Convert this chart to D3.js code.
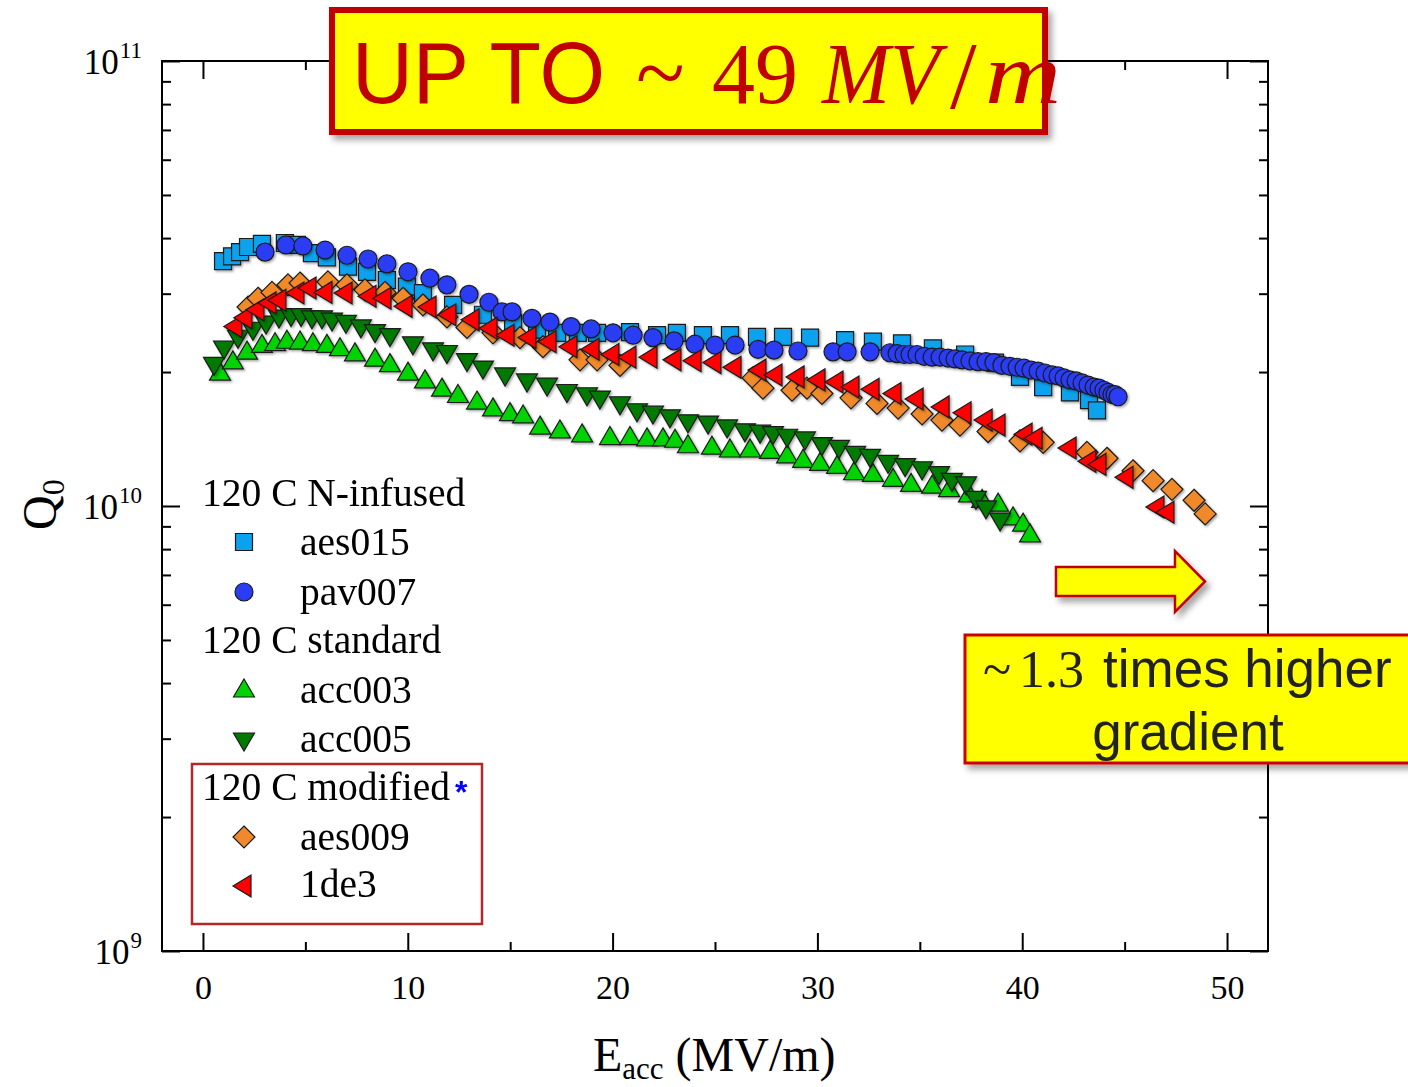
<!DOCTYPE html>
<html><head><meta charset="utf-8">
<script src="https://cdn.jsdelivr.net/npm/d3@7"></script>
<style>body{margin:0;background:#fff}svg{display:block}</style>
</head><body>
<svg id="c" width="1408" height="1087"></svg>
<script>
// Q0 values are in units of 1e10
const E_aes015 = [0.98,1.42,1.81,2.20,2.88,4.00,4.59,5.32,6.05,7.08,8.01,8.98,9.96,10.74,12.21,13.67,15.14,16.31,17.29,18.3,19.24,20.85,22.17,23.14,24.41,25.73,27.05,28.32,29.64,31.35,32.71,34.13,35.64,37.21,38.67,39.89,41.02,42.33,43.26,43.65];
const Q_aes015 = [3.55,3.64,3.72,3.82,3.88,3.90,3.86,3.70,3.62,3.45,3.36,3.22,3.11,3.01,2.83,2.69,2.58,2.49,2.45,2.45,2.45,2.46,2.42,2.45,2.42,2.42,2.40,2.40,2.39,2.36,2.34,2.32,2.26,2.19,2.10,1.95,1.85,1.80,1.73,1.64];

const E_pav007 = [3.03,4.05,4.88,5.96,7.03,8.06,8.98,10.01,11.08,11.91,12.99,13.96,14.60,15.09,16.06,16.94,17.97,18.95,20.02,21.00,21.97,23.00,24.02,25.00,25.98,27.10,27.88,29.05,30.76,31.45,32.57,33.54,33.89,34.23,34.52,34.86,35.21,35.60,35.99,36.38,36.72,37.06,37.45,37.84,38.23,38.62,39.01,39.40,39.75,40.09,40.43,40.77,41.11,41.46,41.75,42.04,42.33,42.63,42.92,43.21,43.51,43.75,43.99,44.19,44.38,44.53,44.68];
const Q_pav007 = [3.72,3.86,3.84,3.76,3.66,3.59,3.50,3.36,3.25,3.14,2.99,2.87,2.73,2.73,2.64,2.59,2.53,2.50,2.45,2.42,2.39,2.35,2.31,2.30,2.30,2.25,2.24,2.23,2.22,2.22,2.22,2.21,2.20,2.19,2.19,2.19,2.17,2.16,2.16,2.15,2.14,2.13,2.12,2.11,2.11,2.10,2.07,2.06,2.05,2.04,2.02,2.01,1.99,1.97,1.96,1.94,1.92,1.91,1.89,1.87,1.85,1.84,1.82,1.80,1.78,1.78,1.76];

const E_acc003 = [0.83,1.46,2.15,2.88,3.52,4.10,4.74,5.37,6.05,6.69,7.42,8.40,9.13,10.01,10.84,11.67,12.45,13.38,14.16,14.99,15.63,16.46,17.43,18.51,19.87,20.85,21.68,22.46,23.05,23.68,24.85,25.73,26.71,27.69,28.52,29.30,30.13,30.96,31.79,32.71,33.69,34.57,35.60,36.43,37.40,38.04,38.82,39.55,40.04,40.38];
const Q_acc003 = [2.01,2.13,2.24,2.32,2.34,2.37,2.36,2.34,2.32,2.28,2.22,2.16,2.10,2.01,1.93,1.85,1.79,1.73,1.67,1.63,1.61,1.52,1.49,1.46,1.44,1.44,1.43,1.43,1.42,1.38,1.37,1.35,1.35,1.34,1.31,1.28,1.26,1.24,1.20,1.19,1.16,1.13,1.12,1.10,1.07,1.04,1.02,0.95,0.92,0.87];

const E_acc005 = [0.54,1.03,1.71,2.44,3.08,3.71,4.30,4.79,5.32,5.81,6.30,6.98,7.71,8.40,9.13,10.25,11.23,11.91,12.89,13.67,14.75,15.82,16.80,17.77,18.75,19.38,20.36,21.19,21.97,22.80,23.68,24.66,25.59,26.46,27.20,27.83,28.52,29.39,30.22,31.05,31.84,32.57,33.45,34.28,35.11,35.94,36.57,37.26,37.74,38.23,38.92];
const Q_acc005 = [2.06,2.24,2.37,2.47,2.55,2.63,2.65,2.65,2.62,2.62,2.59,2.56,2.50,2.44,2.39,2.29,2.22,2.19,2.10,2.02,1.95,1.89,1.85,1.79,1.76,1.73,1.68,1.62,1.60,1.57,1.53,1.52,1.49,1.46,1.45,1.44,1.42,1.40,1.36,1.34,1.30,1.28,1.24,1.22,1.20,1.17,1.13,1.11,1.03,0.98,0.92];

const E_aes009 = [2.20,2.69,3.37,4.15,4.74,6.10,7.03,7.91,8.89,9.77,10.74,11.91,12.89,14.16,15.48,16.60,18.41,19.24,20.36,26.86,27.34,28.76,29.49,30.22,31.64,32.91,33.94,35.11,36.08,36.96,38.33,39.89,41.02,43.16,44.14,45.41,46.39,47.31,48.39,48.93];
const Q_aes009 = [2.80,2.93,3.02,3.14,3.17,3.19,3.14,3.06,3.02,2.93,2.83,2.66,2.52,2.45,2.39,2.28,2.13,2.13,2.07,1.94,1.84,1.82,1.84,1.79,1.75,1.70,1.66,1.61,1.56,1.52,1.47,1.40,1.39,1.32,1.28,1.20,1.14,1.09,1.03,0.96];

const E_1de3 = [1.46,1.95,2.54,3.13,3.61,4.49,5.08,5.86,6.84,8.01,8.74,9.77,10.94,11.91,13.04,13.92,14.75,15.82,16.80,17.82,18.90,19.87,20.70,21.73,22.90,23.88,24.85,25.83,27.05,27.83,28.91,29.93,30.81,31.59,32.57,33.64,34.72,35.99,37.06,38.09,38.72,40.04,40.53,42.19,43.16,43.65,44.97,46.48,46.97];
const Q_1de3 = [2.53,2.65,2.76,2.86,2.90,3.01,3.09,3.02,3.01,2.96,2.93,2.81,2.80,2.69,2.62,2.51,2.42,2.39,2.34,2.28,2.25,2.19,2.16,2.16,2.13,2.12,2.10,2.05,2.02,1.97,1.95,1.92,1.90,1.85,1.83,1.79,1.74,1.67,1.62,1.56,1.52,1.45,1.42,1.35,1.26,1.24,1.16,0.995,0.968];

const seriesNames = ["aes015","pav007","acc003","acc005","aes009","1de3"];
const groupNames = ["120 C N-infused","120 C standard","120 C modified"];
const xTicks = [0,10,20,30,40,50];
const xMinorTicks = [5,15,25,35,45];
const yTickValues = [0.1,1,10];
const yTickLabels = [["10","9"],["10","10"],["10","11"]];
const yMinorTicks = [0.2,0.3,0.4,0.5,0.6,0.7,0.8,0.9,2,3,4,5,6,7,8,9];

const series = [
  {name:seriesNames[0], E:E_aes015, Q:Q_aes015, shape:"square",  fill:"#0aa2ee"},
  {name:seriesNames[1], E:E_pav007, Q:Q_pav007, shape:"circle",  fill:"#2a3df5"},
  {name:seriesNames[2], E:E_acc003, Q:Q_acc003, shape:"up",      fill:"#00d400"},
  {name:seriesNames[3], E:E_acc005, Q:Q_acc005, shape:"down",    fill:"#007a00"},
  {name:seriesNames[4], E:E_aes009, Q:Q_aes009, shape:"diamond", fill:"#f0892c"},
  {name:seriesNames[5], E:E_1de3,   Q:Q_1de3,   shape:"left",    fill:"#ff0000"}
];

const svg = d3.select("#c");
const L=162, R=1268, T=61, B=951;
const x = d3.scaleLinear().domain([-2,52]).range([L,R]);
const y = d3.scaleLog().domain([0.1,10]).range([B,T]);

const defs = svg.append("defs");
const fs = defs.append("filter").attr("id","msh").attr("x","-50%").attr("y","-50%").attr("width","200%").attr("height","200%");
fs.append("feDropShadow").attr("dx",1.5).attr("dy",1.5).attr("stdDeviation",1).attr("flood-color","#000").attr("flood-opacity",0.35);
const fb = defs.append("filter").attr("id","bsh").attr("x","-10%").attr("y","-10%").attr("width","130%").attr("height","140%");
fb.append("feDropShadow").attr("dx",4).attr("dy",5).attr("stdDeviation",3).attr("flood-color","#000").attr("flood-opacity",0.35);

function shapePath(shape){
  switch(shape){
    case "square": { const s=17; return `M${-s/2},${-s/2}h${s}v${s}h${-s}Z`; }
    case "up": { const w=21,h=18; return `M0,${-h/2}L${w/2},${h/2}L${-w/2},${h/2}Z`; }
    case "down": { const w=21,h=18; return `M${-w/2},${-h/2}L${w/2},${-h/2}L0,${h/2}Z`; }
    case "left": { const w=18,h=22; return `M${-w/2},0L${w/2},${-h/2}L${w/2},${h/2}Z`; }
    case "diamond": { const s=22; return `M0,${-s/2}L${s/2},0L0,${s/2}L${-s/2},0Z`; }
  }
}
function drawMarker(g, shape, fill, cx, cy){
  if(shape==="circle"){
    g.append("circle").attr("cx",cx).attr("cy",cy).attr("r",9).attr("fill",fill).attr("stroke","#1a1a1a").attr("stroke-width",1.2);
  } else {
    g.append("path").attr("d",shapePath(shape)).attr("transform",`translate(${cx},${cy})`).attr("fill",fill).attr("stroke","#1a1a1a").attr("stroke-width",1.2).attr("stroke-linejoin","miter");
  }
}

// frame
svg.append("rect").attr("x",L).attr("y",T).attr("width",R-L).attr("height",B-T).attr("fill","none").attr("stroke","#000").attr("stroke-width",2);

function tickAxis(gen, transform){
  const g = svg.append("g").attr("transform",transform).call(gen);
  g.select(".domain").remove();
  g.selectAll("line").attr("stroke","#000").attr("stroke-width",2);
  return g;
}
const serif = "'Liberation Serif','Times New Roman',serif";
const sans = "'Liberation Sans',Arial,sans-serif";
const xb = tickAxis(d3.axisBottom(x).tickValues(xTicks).tickSizeInner(-18).tickSizeOuter(0).tickPadding(24), `translate(0,${B})`);
xb.selectAll("text").attr("font-family",serif).attr("font-size",34).attr("fill","#000");
tickAxis(d3.axisBottom(x).tickValues(xMinorTicks).tickSizeInner(-9).tickSizeOuter(0).tickFormat(""), `translate(0,${B})`);
tickAxis(d3.axisTop(x).tickValues(xTicks).tickSizeInner(-18).tickSizeOuter(0).tickFormat(""), `translate(0,${T})`);
tickAxis(d3.axisTop(x).tickValues(xMinorTicks).tickSizeInner(-9).tickSizeOuter(0).tickFormat(""), `translate(0,${T})`);
tickAxis(d3.axisLeft(y).tickValues(yTickValues).tickSizeInner(-18).tickSizeOuter(0).tickFormat(""), `translate(${L},0)`);
tickAxis(d3.axisLeft(y).tickValues(yMinorTicks).tickSizeInner(-9).tickSizeOuter(0).tickFormat(""), `translate(${L},0)`);
tickAxis(d3.axisRight(y).tickValues(yTickValues).tickSizeInner(-18).tickSizeOuter(0).tickFormat(""), `translate(${R},0)`);
tickAxis(d3.axisRight(y).tickValues(yMinorTicks).tickSizeInner(-9).tickSizeOuter(0).tickFormat(""), `translate(${R},0)`);

// y tick labels with superscripts
yTickValues.forEach((v,i)=>{
  const t = svg.append("text").attr("x",142).attr("y",y(v)+13).attr("text-anchor","end")
    .attr("font-family",serif).attr("font-size",35).attr("fill","#000");
  t.append("tspan").text(yTickLabels[i][0]);
  t.append("tspan").attr("font-size",23).attr("dy",-16).attr("dx",1).text(yTickLabels[i][1]);
});

// axis titles
const xt = svg.append("text").attr("x",593).attr("y",1071).attr("font-family",serif).attr("font-size",48).attr("fill","#000");
xt.append("tspan").text("E");
xt.append("tspan").attr("font-size",31).attr("dy",8).text("acc");
xt.append("tspan").attr("dy",-8).text(" (MV/m)");
const yt = svg.append("text").attr("transform","translate(56,530) rotate(-90)").attr("font-family",serif).attr("font-size",48).attr("fill","#000");
yt.append("tspan").text("Q");
yt.append("tspan").attr("font-size",32).attr("dy",8).text("0");

// data
series.forEach(s=>{
  const g = svg.append("g").attr("filter","url(#msh)");
  s.E.forEach((e,i)=> drawMarker(g, s.shape, s.fill, x(e), y(s.Q[i])));
});

// legend
const legFont = 39.5;
const lg = svg.append("g");
const headers = [{t:groupNames[0], y:506},{t:groupNames[1], y:653},{t:groupNames[2], y:800}];
headers.forEach(h=> lg.append("text").attr("x",202).attr("y",h.y).attr("font-family",serif).attr("font-size",legFont).attr("fill","#000").text(h.t));
const legRows = [{y:555, my:542},{y:605,my:592},{y:703,my:688},{y:752,my:742},{y:850,my:837},{y:897,my:886}];
series.forEach((s,i)=>{
  const r = legRows[i];
  drawMarker(lg, s.shape, s.fill, s.shape==="left"?242:244, r.my);
  lg.append("text").attr("x",300).attr("y",r.y).attr("font-family",serif).attr("font-size",legFont).attr("fill","#000").text(s.name);
});
lg.append("text").attr("x",455).attr("y",803).attr("font-family",sans).attr("font-weight","bold").attr("font-size",32).attr("fill","#0000ff").text("*");
lg.append("rect").attr("x",192).attr("y",764).attr("width",290).attr("height",160).attr("fill","none").attr("stroke","#b5262b").attr("stroke-width",2.5);

// annotation: title box
svg.append("rect").attr("x",332).attr("y",10).attr("width",713).attr("height",122).attr("fill","#ffff00").attr("stroke","#c00000").attr("stroke-width",6).attr("filter","url(#bsh)");
svg.append("text").attr("x",352).attr("y",103).attr("font-family",sans).attr("font-size",88).attr("fill","#c00000").attr("textLength",253).attr("lengthAdjust","spacingAndGlyphs").text("UP TO");
svg.append("text").attr("x",636).attr("y",103).attr("font-family",serif).attr("font-size",90).attr("fill","#c00000").text("~");
svg.append("text").attr("x",712).attr("y",103).attr("font-family",serif).attr("font-size",86).attr("fill","#c00000").text("49");
svg.append("text").attr("x",822).attr("y",103).attr("font-family",serif).attr("font-style","italic").attr("font-size",86).attr("fill","#c00000").attr("textLength",118).attr("lengthAdjust","spacingAndGlyphs").text("MV");
svg.append("text").attr("x",950).attr("y",108).attr("font-family",serif).attr("font-size",96).attr("fill","#c00000").text("/");
svg.append("text").attr("x",985).attr("y",103).attr("font-family",serif).attr("font-style","italic").attr("font-size",86).attr("fill","#c00000").attr("textLength",76).attr("lengthAdjust","spacingAndGlyphs").text("m");

// arrow
svg.append("polygon").attr("points","1056,567 1175,567 1175,551 1205,581.5 1175,612 1175,596 1056,596")
  .attr("fill","#ffff00").attr("stroke","#c00000").attr("stroke-width",2.5).attr("filter","url(#bsh)");

// annotation box 2
svg.append("rect").attr("x",965).attr("y",635).attr("width",520).attr("height",128).attr("fill","#ffff00").attr("stroke","#cc0000").attr("stroke-width",3).attr("filter","url(#bsh)");
const t1 = svg.append("text").attr("y",687).attr("fill","#222").attr("font-size",53);
t1.append("tspan").attr("x",983).attr("font-family",serif).attr("font-size",52).text("~");
t1.append("tspan").attr("x",1019).attr("font-family",serif).attr("font-size",52).text("1.3");
t1.append("tspan").attr("x",1103).attr("font-family",sans).text("times higher");
svg.append("text").attr("x",1188).attr("y",750).attr("text-anchor","middle").attr("font-family",sans).attr("font-size",53).attr("fill","#222").text("gradient");
</script>
</body></html>
